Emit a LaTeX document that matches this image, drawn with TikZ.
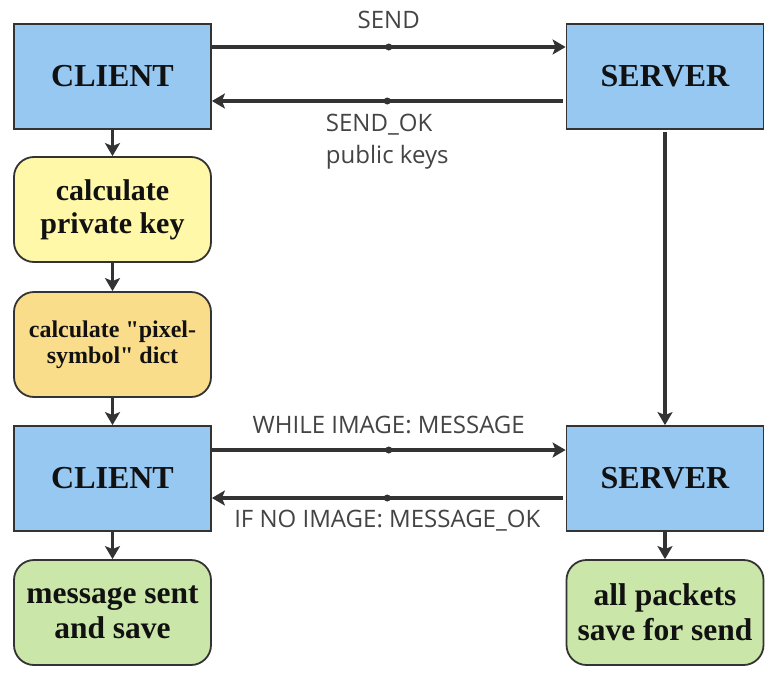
\documentclass[tikz,border=0pt]{standalone}
\usepackage{fontspec}
\setmainfont{Liberation Serif}
\newfontfamily\plainserif{Liberation Serif}
\newfontfamily\lblfont{Open Sans}
\usetikzlibrary{arrows.meta,positioning}
\definecolor{boxblue}{HTML}{96C8F2}
\definecolor{boxyellow}{HTML}{FFF8A8}
\definecolor{boxorange}{HTML}{FADD8B}
\definecolor{boxgreen}{HTML}{CBE6A9}
\definecolor{edge}{HTML}{333333}
\definecolor{lblgray}{HTML}{444444}
\definecolor{txt}{HTML}{111111}
\begin{document}
\begin{tikzpicture}[x=1pt,y=-1pt,
  box/.style={draw=edge, line width=1.8pt, minimum width=197pt, minimum height=105pt,
    inner sep=0pt, align=center, text=txt, font=\bfseries},
  sq/.style={box, fill=boxblue, font={\bfseries\fontsize{32}{36}\selectfont}},
  rbox/.style={box, rounded corners=20pt},
  arr/.style={draw=edge, line width=3.6pt, -{Stealth[length=13pt,width=15pt,inset=3pt]}},
  dot/.style={circle, fill=edge, inner sep=0pt, minimum size=7pt},
  lbl/.style={text=lblgray, font={\lblfont\fontsize{24}{32}\selectfont}},
]
\useasboundingbox[fill=white] (0,0) rectangle (779,680);

\node[sq] (c1) at (112.5,76.5) {CLIENT};
\node[sq] (s1) at (665,76.5) {SERVER};
\node[rbox, fill=boxyellow, font={\bfseries\fontsize{30}{33}\selectfont}] (pk) at (112.5,209.5) {calculate\\private key};
\node[rbox, fill=boxorange, font={\plainserif\bfseries\fontsize{24}{26}\selectfont}] (dict) at (112.5,344.5) {calculate "pixel-\\symbol" dict};
\node[sq] (c2) at (112.5,478.5) {CLIENT};
\node[sq] (s2) at (665,478.5) {SERVER};
\node[rbox, fill=boxgreen, font={\bfseries\fontsize{31.5}{35}\selectfont}] (g1) at (112.5,612.5) {message sent\\and save};
\node[rbox, fill=boxgreen, font={\bfseries\fontsize{31.5}{35}\selectfont}] (g2) at (665,612.5) {all packets\\save for send};

% top exchange
\draw[arr] ([yshift=29.5pt]c1.east) -- ([yshift=29.5pt]s1.west)
  node[dot, midway]{} node[lbl, midway, yshift=27pt]{SEND};
\draw[arr] ([yshift=-24.5pt,xshift=-3pt]s1.west) -- ([yshift=-24.5pt]c1.east)
  node[dot, midway]{} node[lbl, midway, yshift=-41pt, align=left]{SEND\_OK\\public keys};

% bottom exchange
\draw[arr] ([yshift=28.5pt]c2.east) -- ([yshift=28.5pt]s2.west)
  node[dot, midway]{} node[lbl, midway, yshift=25pt]{WHILE IMAGE: MESSAGE};
\draw[arr] ([yshift=-19.5pt,xshift=-3pt]s2.west) -- ([yshift=-19.5pt]c2.east)
  node[dot, midway]{} node[lbl, midway, yshift=-23pt]{IF NO IMAGE: MESSAGE\_OK};

% verticals
\draw[arr] (c1.south) -- (pk.north);
\draw[arr] (pk.south) -- (dict.north);
\draw[arr] (dict.south) -- (c2.north);
\draw[arr] (c2.south) -- (g1.north);
\draw[arr] ([yshift=-2pt]s1.south) -- (s2.north);
\draw[arr] (s2.south) -- (g2.north);
\end{tikzpicture}
\end{document}
